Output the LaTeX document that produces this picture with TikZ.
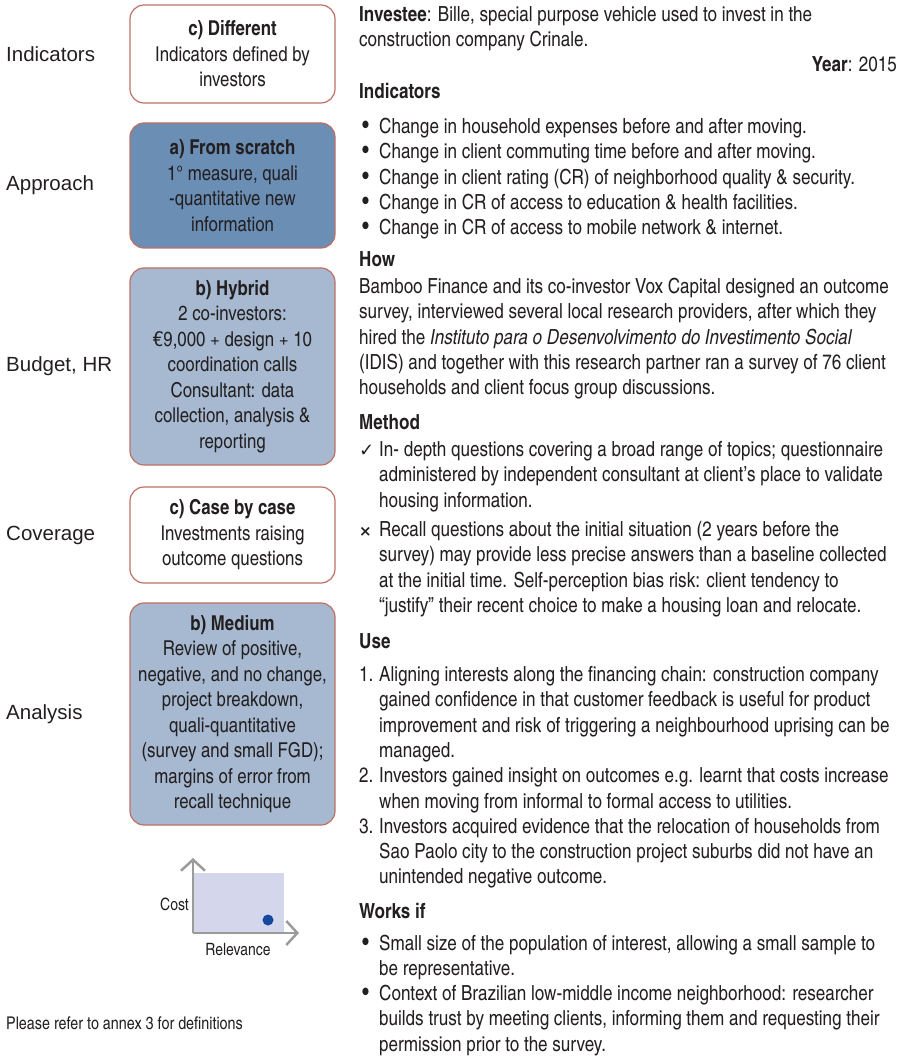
\documentclass[tikz,border=0pt]{standalone}
\usepackage{fontspec}
\setmainfont{texgyreheroscn}[Extension=.otf, UprightFont=*-regular, BoldFont=*-bold, ItalicFont=*-italic, BoldItalicFont=*-bolditalic]
\newfontfamily\labelfont{Liberation Sans}
\newfontfamily\symfont{DejaVu Sans}
\usetikzlibrary{arrows.meta,positioning}

\definecolor{boxline}{RGB}{190,112,102}
\definecolor{deepblue}{RGB}{107,142,181}
\definecolor{paleblue}{RGB}{166,185,208}
\definecolor{chartfill}{RGB}{212,215,235}
\definecolor{dotblue}{RGB}{22,72,160}
\definecolor{axisgray}{RGB}{155,155,155}
\definecolor{txt}{RGB}{35,31,32}

\newcommand{\bodysize}{\fontsize{20.8}{25.3}\selectfont}
\newcommand{\boxsize}{\fontsize{20.5}{25.5}\selectfont}
\newcommand{\notesize}{\fontsize{17.5}{20}\selectfont}
\newcommand{\bul}{\hspace{3pt}{\fontsize{24}{24}\selectfont\textbullet}}
\newcommand{\yes}{{\symfont\fontsize{18}{18}\selectfont ✓}}
\newcommand{\no}{{\symfont\bfseries\fontsize{15}{15}\selectfont ×}}

\tikzset{
  outcome/.style={draw=boxline, line width=1.2pt, rounded corners=14pt, minimum width=205pt, inner sep=0pt, align=center, text=txt, font=\boxsize},
  rowlabel/.style={anchor=west, inner sep=0pt, text=txt, font=\labelfont\fontsize{20.5}{24}\selectfont},
  heading/.style={anchor=base west, inner sep=0pt, text=txt, font=\bodysize\bfseries},
  bodytext/.style={anchor=base west, inner sep=0pt, text=txt, font=\bodysize},
  chartlabel/.style={inner sep=0pt, text=txt, font=\fontsize{17}{20}\selectfont},
  axis/.style={draw=axisgray, line width=2.5pt, -{Straight Barb[length=11pt, width=24pt]}}
}

\begin{document}
\begin{tikzpicture}[x=1pt, y=-1pt]
    \useasboundingbox (0,0) rectangle (903,1056);
    \coordinate (lm) at (6,0);

    % Draw outcome boxes
    \node[outcome, fill=white, minimum height=98pt] (diff) at (232.5,54) {\textbf{c) Different}\\Indicators defined by\\investors};
    \node[outcome, fill=deepblue, minimum height=125pt] (scratch) at (232.5,185.5) {\textbf{a) From scratch}\\1° measure, quali\\-quantitative new\\information};
    \node[outcome, fill=paleblue, minimum height=197pt] (hybrid) at (232.5,366.5) {\textbf{b) Hybrid}\\2 co-investors:\\€9,000 + design + 10\\coordination calls\\Consultant: data\\collection, analysis \&\\reporting};
    \node[outcome, fill=white, minimum height=96pt] (case) at (232.5,535) {\textbf{c) Case by case}\\Investments raising\\outcome questions};
    \node[outcome, fill=paleblue, minimum height=222pt] (medium) at (232.5,714) {\textbf{b) Medium}\\Review of positive,\\negative, and no change,\\project breakdown,\\quali-quantitative\\(survey and small FGD);\\margins of error from\\recall technique};

    % Row labels
    \node[rowlabel] (lab1) at (diff -| lm) {Indicators};
    \node[rowlabel] (lab2) at (scratch -| lm) {Approach};
    \node[rowlabel] (lab3) at (hybrid -| lm) {Budget, HR};
    \node[rowlabel] (lab4) at (case -| lm) {Coverage};
    \node[rowlabel] (lab5) at (medium -| lm) {Analysis};

    % Cost / relevance chart
    \coordinate (org) at (193,933);
    \coordinate (ytip) at (193,858);
    \coordinate (xtip) at (299,933);
    \fill[chartfill] (193,873) rectangle (284,933);
    \fill[dotblue] (268,920) circle (5.5);
    \draw[axis] (org) -- (ytip);
    \draw[axis] (org) -- (xtip);
    \node[chartlabel, anchor=east] (cost) at (189,904) {Cost};
    \node[chartlabel] (rel) at (238,950) {Relevance};

    \node[anchor=west, inner sep=0pt, text=txt, font=\notesize] (note) at (6,1023) {Please refer to annex 3 for definitions};

    % Case description
    \node[bodytext] (inv) at (359,21.5) {\begin{tabular}[t]{@{}l@{}}
        \textbf{Investee}: Bille, special purpose vehicle used to invest in the\\
        construction company Crinale.
    \end{tabular}};
    \node[bodytext, anchor=base east] (year) at (897,71.5) {\textbf{Year}: 2015};

    \node[heading] (hind) at (359,98.5) {Indicators};
    \node[bodytext] (ind) at (359,133.5) {\begin{tabular}[t]{@{}p{20pt}@{}l@{}}
        \bul & Change in household expenses before and after moving.\\
        \bul & Change in client commuting time before and after moving.\\
        \bul & Change in client rating (CR) of neighborhood quality \& security.\\
        \bul & Change in CR of access to education \& health facilities.\\
        \bul & Change in CR of access to mobile network \& internet.
    \end{tabular}};

    \node[heading] (hhow) at (359,266.5) {How};
    \node[bodytext] (how) at (359,293.5) {\begin{tabular}[t]{@{}l@{}}
        Bamboo Finance and its co-investor Vox Capital designed an outcome\\
        survey, interviewed several local research providers, after which they\\
        hired the \textit{Instituto para o Desenvolvimento do Investimento Social}\\
        (IDIS) and together with this research partner ran a survey of 76 client\\
        households and client focus group discussions.
    \end{tabular}};

    \node[heading] (hmethod) at (359,429.5) {Method};
    \node[bodytext] (method) at (359,456.5) {\begin{tabular}[t]{@{}p{20pt}@{}l@{}}
        \yes & In- depth questions covering a broad range of topics; questionnaire\\
        & administered by independent consultant at client's place to validate\\
        & housing information.\\[4pt]
        \no & Recall questions about the initial situation (2 years before the\\
        & survey) may provide less precise answers than a baseline collected\\
        & at the initial time. Self-perception bias risk: client tendency to\\
        & “justify” their recent choice to make a housing loan and relocate.
    \end{tabular}};

    \node[heading] (huse) at (359,648.5) {Use};
    \node[bodytext] (use) at (359,681.5) {\begin{tabular}[t]{@{}p{20pt}@{}l@{}}
        1. & Aligning interests along the financing chain: construction company\\
        & gained confidence in that customer feedback is useful for product\\
        & improvement and risk of triggering a neighbourhood uprising can be\\
        & managed.\\
        2. & Investors gained insight on outcomes e.g. learnt that costs increase\\
        & when moving from informal to formal access to utilities.\\
        3. & Investors acquired evidence that the relocation of households from\\
        & Sao Paolo city to the construction project suburbs did not have an\\
        & unintended negative outcome.
    \end{tabular}};

    \node[heading] (hworks) at (359,918) {Works if};
    \node[bodytext] (works) at (359,950) {\begin{tabular}[t]{@{}p{20pt}@{}l@{}}
        \bul & Small size of the population of interest, allowing a small sample to\\
        & be representative.\\
        \bul & Context of Brazilian low-middle income neighborhood: researcher\\
        & builds trust by meeting clients, informing them and requesting their\\
        & permission prior to the survey.
    \end{tabular}};
\end{tikzpicture}
\end{document}
